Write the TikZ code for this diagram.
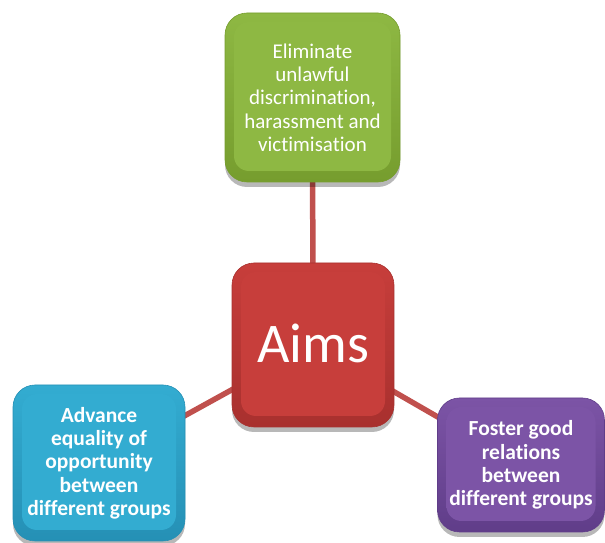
\documentclass[tikz,border=0pt]{standalone}
\usepackage{fontspec}
\setmainfont{Carlito}[Ligatures=NoCommon]
\usetikzlibrary{shadows,backgrounds,calc}

% palette: base, light and dark tone for each box
\definecolor{gBase}{HTML}{8EB843}
\definecolor{gLight}{HTML}{ABD362}
\definecolor{gDark}{HTML}{769D2E}
\definecolor{rBase}{HTML}{C73E3B}
\definecolor{rLight}{HTML}{E46663}
\definecolor{rDark}{HTML}{A8302E}
\definecolor{bBase}{HTML}{33ACD1}
\definecolor{bLight}{HTML}{66D6EF}
\definecolor{bDark}{HTML}{2590B5}
\definecolor{pBase}{HTML}{7C54A6}
\definecolor{pLight}{HTML}{9B78C4}
\definecolor{pDark}{HTML}{603D89}
\definecolor{linkRed}{HTML}{C0504D}

% inner faces: flat base colour with glossy side edges
\pgfdeclarehorizontalshading{gface}{100bp}{color(0bp)=(gLight); color(9bp)=(gBase); color(91bp)=(gBase); color(100bp)=(gLight)}
\pgfdeclarehorizontalshading{rface}{100bp}{color(0bp)=(rLight); color(9bp)=(rBase); color(91bp)=(rBase); color(100bp)=(rLight)}
\pgfdeclarehorizontalshading{bface}{100bp}{color(0bp)=(bLight); color(9bp)=(bBase); color(91bp)=(bBase); color(100bp)=(bLight)}
\pgfdeclarehorizontalshading{pface}{100bp}{color(0bp)=(pLight); color(9bp)=(pBase); color(91bp)=(pBase); color(100bp)=(pLight)}

\tikzset{
  bevel/.style={
    rounded corners=22pt, top color=#1Base, bottom color=#1Dark,
    draw=#1Dark, line width=0.6pt,
    drop shadow={shadow xshift=0pt, shadow yshift=-5pt, opacity=0.28, fill=black},
    text=white, align=center, inner sep=4pt,
    path picture={
      \shade[shading=#1face, rounded corners=15pt]
        ($(path picture bounding box.north west)+(9pt,-9pt)$) rectangle
        ($(path picture bounding box.south east)+(-9pt,11pt)$);
    }
  },
  small/.style={font=\fontsize{21}{23.3}\selectfont},
  smallbold/.style={font=\bfseries\fontsize{21.5}{23.3}\selectfont},
  link/.style={draw=linkRed, line width=5.5pt}
}

\begin{document}
\begin{tikzpicture}[x=1pt,y=1pt]
\useasboundingbox (0,0) rectangle (605,543);

\node[bevel=g, small, minimum width=175pt, minimum height=169pt]
  (elim) at (312.5,445.5)
  {Eliminate\\unlawful\\discrimination,\\harassment and\\victimisation};

\node[bevel=r, minimum width=162pt, minimum height=164pt,
      font=\fontsize{56}{60}\selectfont]
  (aims) at (313,198) {\raisebox{3pt}{Aims}};

\node[bevel=b, smallbold, minimum width=172pt, minimum height=156pt]
  (adv) at (99,80)
  {Advance\\equality of\\opportunity\\between\\different groups};

\node[bevel=p, smallbold, minimum width=167pt, minimum height=134pt]
  (fost) at (521,78)
  {Foster good\\relations\\between\\different groups};

\begin{scope}[on background layer]
  \draw[link] (aims.center) -- (elim.center);
  \draw[link] (aims.center) -- (adv.center);
  \draw[link] (aims.center) -- (fost.center);
\end{scope}
\end{tikzpicture}
\end{document}
